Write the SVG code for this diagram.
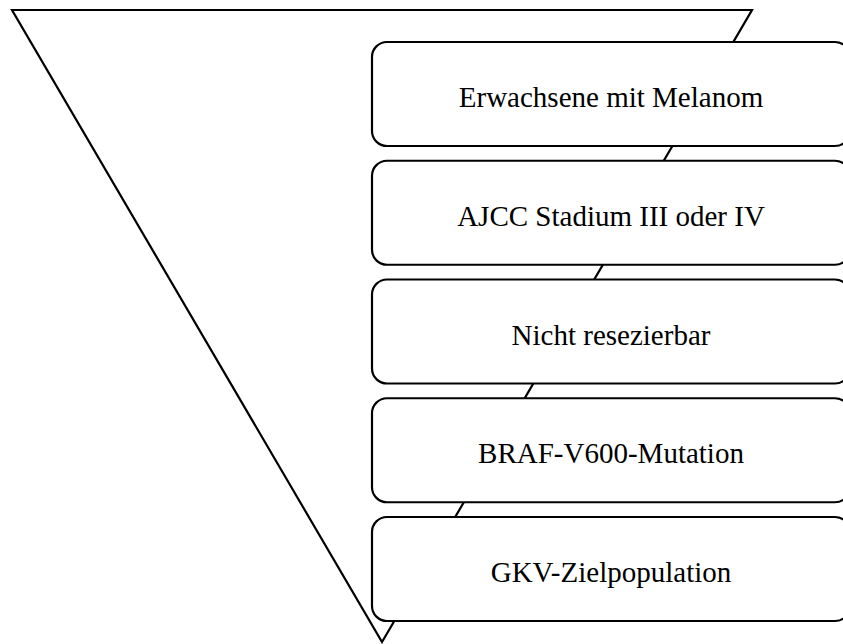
<svg xmlns="http://www.w3.org/2000/svg" width="843" height="644" viewBox="0 0 843 644">
<style>
.box{fill:#fff;stroke:#000;stroke-width:2.2}
.lbl{font-family:"Liberation Serif","Times New Roman",serif;font-size:29px;fill:#000;text-anchor:middle}
.tri{fill:none;stroke:#000;stroke-width:2.2;stroke-linejoin:miter}
</style>
<rect width="843" height="644" fill="#fff"/>
<g id="connectors">
<polygon class="tri" points="12,10 752,10 382,642"/>
</g>
<g id="n1"><rect class="box" x="372" y="42" width="478" height="104" rx="15"/><text class="lbl" x="611" y="107">Erwachsene mit Melanom</text></g>
<g id="n2"><rect class="box" x="372" y="160.75" width="478" height="104" rx="15"/><text class="lbl" x="611" y="225.75">AJCC Stadium III oder IV</text></g>
<g id="n3"><rect class="box" x="372" y="279.5" width="478" height="104" rx="15"/><text class="lbl" x="611" y="344.5">Nicht resezierbar</text></g>
<g id="n4"><rect class="box" x="372" y="398.25" width="478" height="104" rx="15"/><text class="lbl" x="611" y="463.25">BRAF-V600-Mutation</text></g>
<g id="n5"><rect class="box" x="372" y="517" width="478" height="104" rx="15"/><text class="lbl" x="611" y="582">GKV-Zielpopulation</text></g>
</svg>
